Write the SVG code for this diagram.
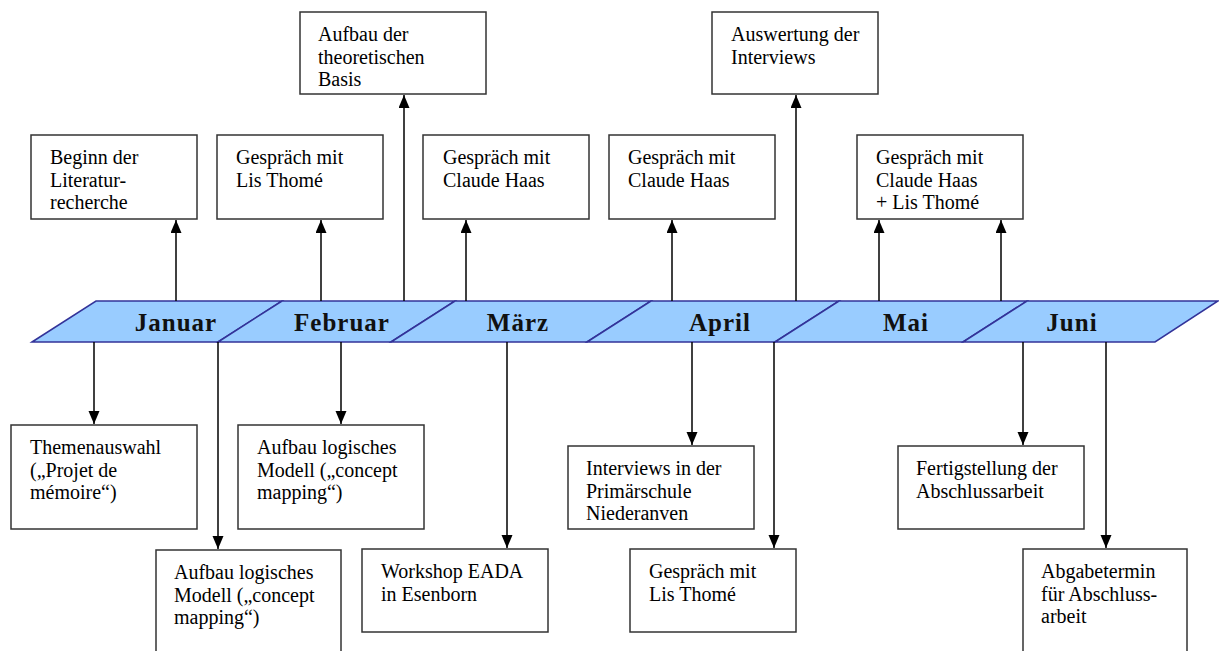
<svg xmlns="http://www.w3.org/2000/svg" width="1219" height="651" viewBox="0 0 1219 651">
<style>
.box{fill:#fff;stroke:#333;stroke-width:1.5}
.t{font-family:"Liberation Serif","Times New Roman",serif;font-size:20px;fill:#000}
.seg{fill:#99CCFF;stroke:#333399;stroke-width:1.5;stroke-linejoin:miter}
.m{font-family:"Liberation Serif","Times New Roman",serif;font-size:25px;font-weight:bold;letter-spacing:1px;fill:#111;text-anchor:middle}
.c{stroke:#000;stroke-width:1.5;fill:none;marker-end:url(#ah)}
</style>
<defs>
<marker id="ah" markerUnits="userSpaceOnUse" markerWidth="14" markerHeight="12" refX="13" refY="5.5" orient="auto">
<path d="M0,0 L13,5.5 L0,11 z" fill="#000"/>
</marker>
</defs>
<rect width="1219" height="651" fill="#fff"/>

<g id="timeline">
<polygon class="seg" points="32,342 96,301 282,301 218,342"/>
<polygon class="seg" points="218,342 282,301 455,301 391,342"/>
<polygon class="seg" points="391,342 455,301 651,301 587,342"/>
<polygon class="seg" points="587,342 651,301 839,301 775,342"/>
<polygon class="seg" points="775,342 839,301 1027,301 963,342"/>
<polygon class="seg" points="963,342 1027,301 1218,301 1155,342"/>
<text class="m" x="176" y="331">Januar</text>
<text class="m" x="342" y="331">Februar</text>
<text class="m" x="518" y="331">März</text>
<text class="m" x="720" y="331">April</text>
<text class="m" x="906" y="331">Mai</text>
<text class="m" x="1072" y="331">Juni</text>
</g>

<g id="connectors">
<line class="c" x1="176" y1="301" x2="176" y2="220"/>
<line class="c" x1="321" y1="301" x2="321" y2="220"/>
<line class="c" x1="404" y1="301" x2="404" y2="95"/>
<line class="c" x1="466" y1="301" x2="466" y2="220"/>
<line class="c" x1="672" y1="301" x2="672" y2="220"/>
<line class="c" x1="796" y1="301" x2="796" y2="95"/>
<line class="c" x1="879" y1="301" x2="879" y2="220"/>
<line class="c" x1="1001" y1="301" x2="1001" y2="220"/>
<line class="c" x1="94" y1="342" x2="94" y2="424"/>
<line class="c" x1="218" y1="342" x2="218" y2="549"/>
<line class="c" x1="341" y1="342" x2="341" y2="424"/>
<line class="c" x1="507" y1="342" x2="507" y2="548"/>
<line class="c" x1="692" y1="342" x2="692" y2="445"/>
<line class="c" x1="774" y1="342" x2="774" y2="548"/>
<line class="c" x1="1023" y1="342" x2="1023" y2="445"/>
<line class="c" x1="1106" y1="342" x2="1106" y2="548"/>
</g>

<g id="n-literatur">
<rect class="box" x="31" y="135" width="166" height="84"/>
<text class="t" x="50" y="164">Beginn der</text>
<text class="t" x="50" y="186.5">Literatur-</text>
<text class="t" x="50" y="209">recherche</text>
</g>
<g id="n-lis1">
<rect class="box" x="217" y="135" width="166" height="84"/>
<text class="t" x="236" y="164">Gespräch mit</text>
<text class="t" x="236" y="186.5">Lis Thomé</text>
</g>
<g id="n-theorie">
<rect class="box" x="300" y="12" width="186" height="82"/>
<text class="t" x="318" y="41">Aufbau der</text>
<text class="t" x="318" y="63.5">theoretischen</text>
<text class="t" x="318" y="86">Basis</text>
</g>
<g id="n-haas1">
<rect class="box" x="423" y="135" width="166" height="84"/>
<text class="t" x="443" y="164">Gespräch mit</text>
<text class="t" x="443" y="186.5">Claude Haas</text>
</g>
<g id="n-haas2">
<rect class="box" x="609" y="135" width="166" height="84"/>
<text class="t" x="628" y="164">Gespräch mit</text>
<text class="t" x="628" y="186.5">Claude Haas</text>
</g>
<g id="n-auswertung">
<rect class="box" x="712" y="12" width="166" height="82"/>
<text class="t" x="731" y="41">Auswertung der</text>
<text class="t" x="731" y="63.5">Interviews</text>
</g>
<g id="n-haas-lis">
<rect class="box" x="857" y="135" width="166" height="84"/>
<text class="t" x="876" y="164">Gespräch mit</text>
<text class="t" x="876" y="186.5">Claude Haas</text>
<text class="t" x="876" y="209">+ Lis Thomé</text>
</g>

<g id="n-thema">
<rect class="box" x="11" y="425" width="186" height="104"/>
<text class="t" x="30" y="454">Themenauswahl</text>
<text class="t" x="30" y="476.5">(„Projet de</text>
<text class="t" x="30" y="499">mémoire“)</text>
</g>
<g id="n-modell-feb">
<rect class="box" x="238" y="425" width="186" height="104"/>
<text class="t" x="257" y="454">Aufbau logisches</text>
<text class="t" x="257" y="476.5">Modell („concept</text>
<text class="t" x="257" y="499">mapping“)</text>
</g>
<g id="n-modell-jan">
<rect class="box" x="156" y="550" width="185" height="112"/>
<text class="t" x="174" y="579">Aufbau logisches</text>
<text class="t" x="174" y="601.5">Modell („concept</text>
<text class="t" x="174" y="624">mapping“)</text>
</g>
<g id="n-workshop">
<rect class="box" x="362" y="549" width="186" height="83"/>
<text class="t" x="381" y="578">Workshop EADA</text>
<text class="t" x="381" y="600.5">in Esenborn</text>
</g>
<g id="n-interviews">
<rect class="box" x="568" y="446" width="186" height="83"/>
<text class="t" x="586" y="475">Interviews in der</text>
<text class="t" x="586" y="497.5">Primärschule</text>
<text class="t" x="586" y="520">Niederanven</text>
</g>
<g id="n-lis2">
<rect class="box" x="630" y="549" width="166" height="83"/>
<text class="t" x="649" y="578">Gespräch mit</text>
<text class="t" x="649" y="600.5">Lis Thomé</text>
</g>
<g id="n-fertig">
<rect class="box" x="898" y="446" width="186" height="83"/>
<text class="t" x="916" y="475">Fertigstellung der</text>
<text class="t" x="916" y="497.5">Abschlussarbeit</text>
</g>
<g id="n-abgabe">
<rect class="box" x="1023" y="549" width="164" height="112"/>
<text class="t" x="1041" y="578">Abgabetermin</text>
<text class="t" x="1041" y="600.5">für Abschluss-</text>
<text class="t" x="1041" y="623">arbeit</text>
</g>
</svg>
